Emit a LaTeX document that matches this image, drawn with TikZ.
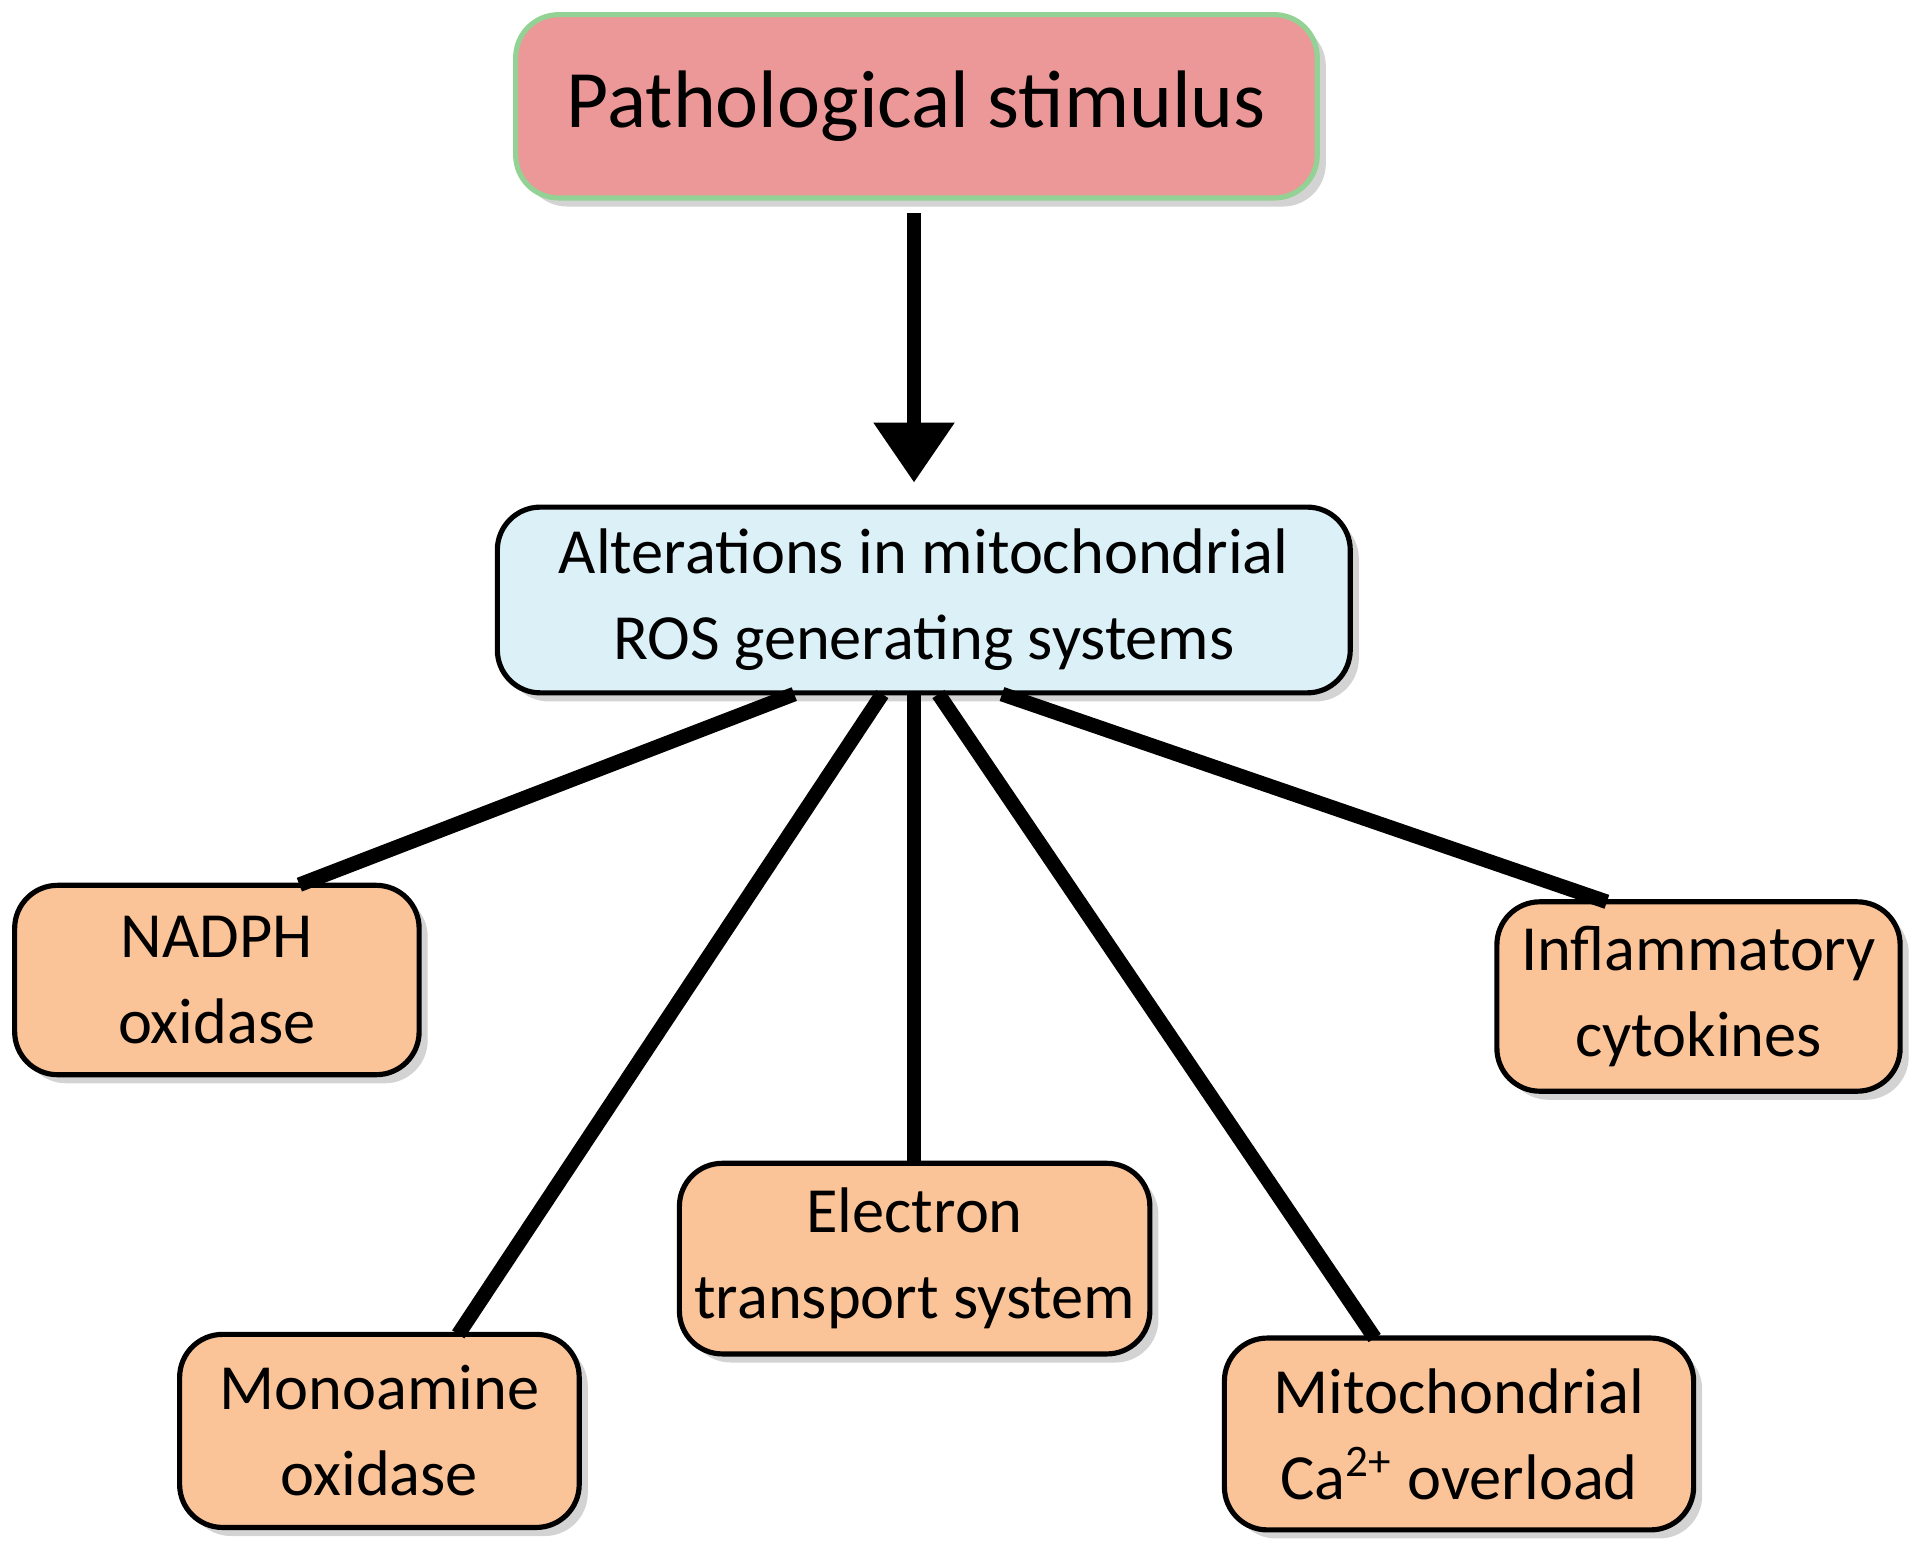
\documentclass[tikz,border=0pt]{standalone}
\usepackage{fontspec}
\setmainfont{Carlito}
\usetikzlibrary{shadows,arrows.meta}
\definecolor{stimred}{RGB}{236,152,152}
\definecolor{rosblue}{RGB}{220,240,247}
\definecolor{srcorange}{RGB}{250,196,152}
\tikzset{
  box/.style={shape=rectangle, rounded corners=10pt, draw, line width=1.2pt, align=center,
    drop shadow={shadow xshift=2pt, shadow yshift=-2pt, opacity=0.35}},
  src/.style={box, fill=srcorange, font=\fontsize{15}{20}\selectfont},
  link/.style={line width=3.4pt}
}
\begin{document}
\begin{tikzpicture}
		\useasboundingbox (0, 0) rectangle (15.68, -12.64);
		% stimulus and ROS nodes
		\node[box, fill=stimred, draw=green!40!gray!60, minimum width=6.56cm, minimum height=1.5cm, font=\fontsize{19}{22}\selectfont] (stim) at (7.5, -0.87) {Pathological stimulus};
		\node[box, fill=rosblue, minimum width=6.98cm, minimum height=1.52cm, font=\fontsize{15}{20}\selectfont] (ros) at (7.56, -4.91) {Alterations in mitochondrial\\ROS generating systems};
		% stimulus arrow
		\coordinate (arr) at (7.48, -3.95);
		\draw[line width=3.4pt, -{Triangle[length=14pt, width=18pt]}] (stim.south -| arr) ++(0, -0.1) -- (arr);
		% ROS sources
		\node[src, minimum width=3.31cm, minimum height=1.55cm] (N1) at (1.775, -8.02) {NADPH\\oxidase};
		\node[src, minimum width=3.27cm, minimum height=1.58cm] (N2) at (3.105, -11.71) {Monoamine\\oxidase};
		\node[src, minimum width=3.85cm, minimum height=1.56cm] (N3) at (7.485, -10.30) {Electron\\transport system};
		\node[src, minimum width=3.84cm, minimum height=1.57cm] (N4) at (11.94, -11.735) {Mitochondrial\\Ca\textsuperscript{2+} overload};
		\node[src, minimum width=3.30cm, minimum height=1.55cm] (N5) at (13.9, -8.155) {Inflammatory\\cytokines};
		% connections
		\coordinate (r1) at (6.50, -5.68);
		\coordinate (r2) at (7.22, -5.68);
		\coordinate (r3) at (7.48, -5.68);
		\coordinate (r4) at (7.68, -5.68);
		\coordinate (r5) at (8.20, -5.68);
		\draw[link] (r1) -- (2.45, -7.24);
		\draw[link] (r2) -- (3.75, -10.92);
		\draw[link] (r3) -- (N3.north -| r3);
		\draw[link] (r4) -- (11.25, -10.95);
		\draw[link] (r5) -- (13.15, -7.38);
\end{tikzpicture}
\end{document}
